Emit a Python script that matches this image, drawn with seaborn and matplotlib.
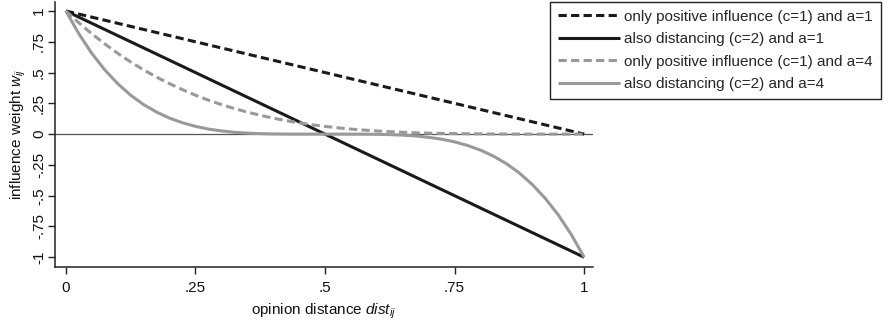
import matplotlib
matplotlib.use("Agg")
import matplotlib.pyplot as plt
import seaborn as sns
import pandas as pd

# ---- data ----
x_lin = [0.0, 1.0]
pos_a1 = [1.0, 0.0]
dist_a1 = [1.0, -1.0]

x_curve = [0.0, 0.025, 0.05, 0.075, 0.1, 0.125, 0.15, 0.175, 0.2, 0.225,
           0.25, 0.275, 0.3, 0.325, 0.35, 0.375, 0.4, 0.425, 0.45, 0.475,
           0.5, 0.525, 0.55, 0.575, 0.6, 0.625, 0.65, 0.675, 0.7, 0.725,
           0.75, 0.775, 0.8, 0.825, 0.85, 0.875, 0.9, 0.925, 0.95, 0.975, 1.0]
pos_a4 = [1.0, 0.904, 0.815, 0.733, 0.656, 0.586, 0.522, 0.463, 0.41, 0.361,
          0.316, 0.276, 0.24, 0.208, 0.179, 0.153, 0.13, 0.109, 0.092, 0.076,
          0.063, 0.051, 0.041, 0.033, 0.026, 0.02, 0.015, 0.011, 0.008, 0.006,
          0.004, 0.003, 0.002, 0.001, 0.0005, 0.0002, 0.0001, 0.0, 0.0, 0.0, 0.0]
dist_a4 = [1.0, 0.815, 0.656, 0.522, 0.41, 0.316, 0.24, 0.179, 0.13, 0.092,
           0.063, 0.041, 0.026, 0.015, 0.008, 0.004, 0.0016, 0.0005, 0.0001, 0.0,
           0.0, 0.0, -0.0001, -0.0005, -0.0016, -0.004, -0.008, -0.015, -0.026, -0.041,
           -0.063, -0.092, -0.13, -0.179, -0.24, -0.316, -0.41, -0.522, -0.656, -0.815, -1.0]

labels = ["only positive influence (c=1) and a=1",
          "also distancing (c=2) and a=1",
          "only positive influence (c=1) and a=4",
          "also distancing (c=2) and a=4"]
x_ticks = [0, 0.25, 0.5, 0.75, 1]
x_ticklabels = ["0", ".25", ".5", ".75", "1"]
y_ticks = [1, 0.75, 0.5, 0.25, 0, -0.25, -0.5, -0.75, -1]
y_ticklabels = ["1", ".75", ".5", ".25", "0", "-.25", "-.5", "-.75", "-1"]

# ---- style ----
sns.set_theme(style="ticks")
plt.rcParams["font.family"] = ["Liberation Sans", "DejaVu Sans"]
plt.rcParams["mathtext.fontset"] = "custom"
plt.rcParams["mathtext.rm"] = "Liberation Sans"
plt.rcParams["mathtext.it"] = "Liberation Sans:italic"

BLACK = "#1a1a1a"
GRAY = "#999999"
LW = 2.2
DASH = (2.7, 1.4)

fig = plt.figure(figsize=(8.89, 3.21), dpi=100)
ax = fig.add_axes([55 / 889, 1 - 267 / 321, (593 - 55) / 889, (267 - 2) / 321])

ax.axhline(0, color="#555555", lw=0.9, zorder=1)

series = [
    (x_lin, pos_a1, BLACK, DASH),
    (x_lin, dist_a1, BLACK, None),
    (x_curve, pos_a4, GRAY, DASH),
    (x_curve, dist_a4, GRAY, None),
]
handles = []
for (xs, ys, col, dash), lab in zip(series, labels):
    df = pd.DataFrame({"x": xs, "y": ys})
    sns.lineplot(data=df, x="x", y="y", ax=ax, color=col, lw=LW, label=lab,
                 legend=False, zorder=3)
    line = ax.lines[-1]
    if dash is not None:
        line.set_dashes(dash)
    line.set_solid_capstyle("butt")
    line.set_dash_capstyle("butt")
    handles.append(line)

ax.set_xlim(-0.021, 1.017)
ax.set_ylim(-1.079, 1.073)
ax.set_xticks(x_ticks)
ax.set_xticklabels(x_ticklabels)
ax.set_yticks(y_ticks)
ax.set_yticklabels(y_ticklabels, rotation=90, va="center")
ax.tick_params(axis="both", direction="out", length=5, width=1, color="#222222",
               labelsize=11, labelcolor="#111111")
ax.tick_params(axis="x", pad=5)
ax.tick_params(axis="y", pad=1.5)
for s in ["top", "right"]:
    ax.spines[s].set_visible(False)
for s in ["left", "bottom"]:
    ax.spines[s].set_color("#222222")
    ax.spines[s].set_linewidth(1.1)

ax.set_xlabel("opinion distance $\\mathit{dist}_{ij}$", fontsize=11, color="#111111", labelpad=5)
ax.set_ylabel("influence weight $w_{ij}$", fontsize=11, color="#111111", labelpad=3)

leg = fig.legend(handles=handles, labels=labels, loc="upper left",
                 bbox_to_anchor=(550 / 889, 1 - 2 / 321), fontsize=11,
                 frameon=True, fancybox=False, framealpha=1, edgecolor="#222222",
                 handlelength=4.1, handletextpad=0.27, labelspacing=0.56,
                 borderpad=0.5, borderaxespad=0)
leg.get_frame().set_linewidth(1.0)

fig.savefig("out.png", dpi=100)
